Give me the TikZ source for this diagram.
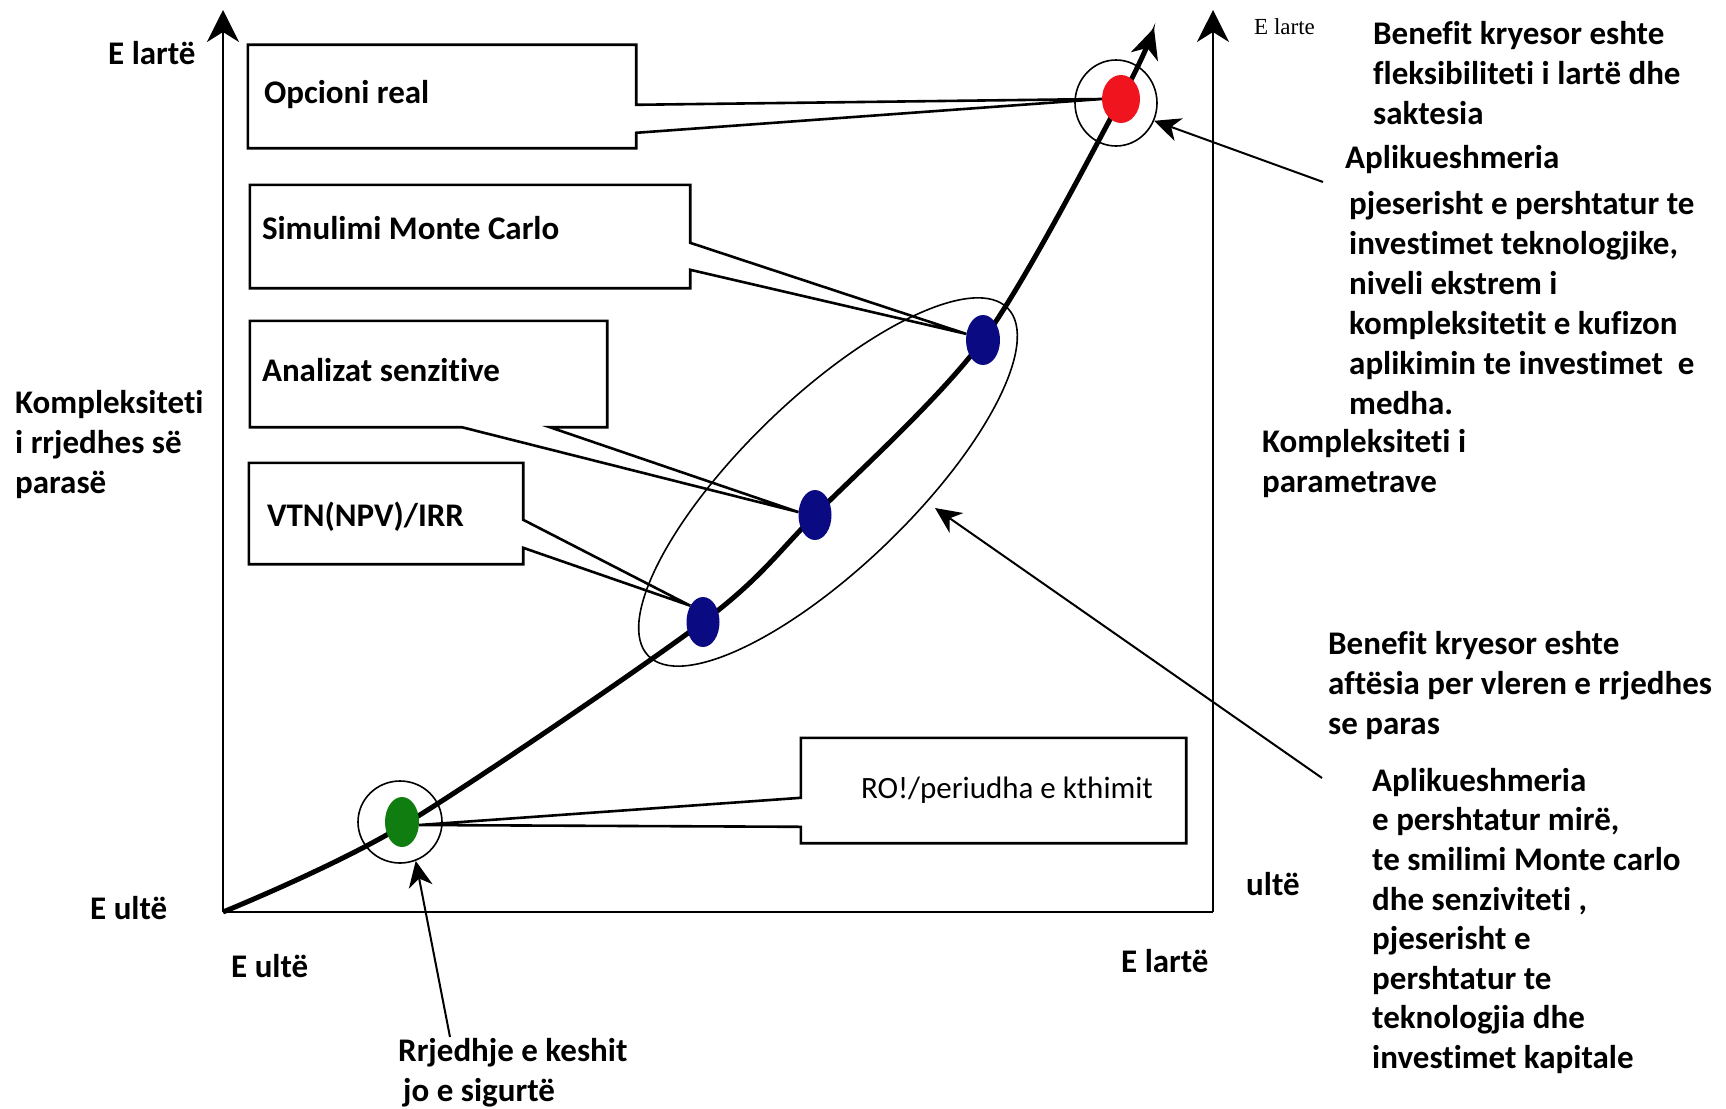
\documentclass[tikz,border=0pt]{standalone}
\usepackage{fontspec}
\setmainfont{Carlito}[Ligatures=NoCommon]
\newfontfamily\timesfont{Liberation Serif}
\usetikzlibrary{arrows.meta,shapes.geometric,calc}
\definecolor{navy}{RGB}{10,10,130}
\definecolor{dgreen}{RGB}{15,125,15}
\definecolor{rred}{RGB}{240,20,30}
\begin{document}
\begin{tikzpicture}[x=1pt,y=-1pt,
  lbl/.style={font=\fontsize{33}{40}\selectfont\bfseries, inner sep=0pt, align=left},
  boxn/.style={inner sep=0pt},
  outline/.style={line width=2.6pt, line join=miter},
  axis/.style={line width=2.6pt, -{Stealth[length=32pt,width=32pt,inset=10pt]}},
  curve/.style={line width=5pt, -{Stealth[length=30pt,width=28pt,inset=9pt]}},
  dot/.style={ellipse, inner sep=0pt},
  ring/.style={ellipse, draw, line width=1.6pt, inner sep=0pt},
  thinarrow/.style={line width=2pt, -{Stealth[length=26pt,width=24pt,inset=8pt]}}
]
\useasboundingbox (0,0) rectangle (1726,1108);
\fill[white] (0,0) rectangle (1726,1108);

% axes
\coordinate (O) at (223,912);
\coordinate (ytop) at (223,10);
\coordinate (R) at (1213,912);
\coordinate (rtop) at (1213,10);
\draw[axis] (O) -- (ytop);
\draw[line width=2.6pt] (O) -- (R);
\draw[axis, line width=2pt] (R) -- (rtop);

% curve
\draw[curve] plot[smooth] coordinates {(223,912) (402,826) (703,622) (815,515) (983,340) (1121,99) (1154,28)};

% big ellipse
\node[ring, minimum width=500pt, minimum height=170pt, rotate=44] (big) at (828,482) {};

% dots
\node[dot, fill=dgreen, minimum width=34pt, minimum height=50pt] (gd) at (402,822) {};
\node[dot, fill=navy, minimum width=33pt, minimum height=50pt] (lb) at (703,622) {};
\node[dot, fill=navy, minimum width=33pt, minimum height=50pt] (mb) at (815,515) {};
\node[dot, fill=navy, minimum width=34pt, minimum height=50pt] (ub) at (983,340) {};
\node[dot, fill=rred, minimum width=38pt, minimum height=48pt] (rd) at (1121,99) {};
\node[ring, minimum width=84pt, minimum height=82pt] (gc) at (400,822) {};
\node[ring, minimum width=82pt, minimum height=86pt] (rc) at (1116,103) {};

% callout boxes
\node[boxn, minimum width=388pt, minimum height=103pt] (op) at (442,96.5) {};
\node[lbl, anchor=base west] (opt) at ($(op.west)+(16,6.5)$) {Opcioni real};
\draw[outline] (op.north west) -- (op.north east) -- ($(op.north east)+(0,60)$) -- (rd.180)
  -- ($(op.north east)+(0,88)$) -- (op.south east) -- (op.south west) -- cycle;

\node[boxn, minimum width=440pt, minimum height=103pt] (sim) at (470,236.5) {};
\node[lbl, anchor=base west] (simt) at ($(sim.west)+(12,3)$) {Simulimi Monte Carlo};
\draw[outline] (sim.north west) -- (sim.north east) -- ($(sim.north east)+(0,58)$) -- (ub.160)
  -- ($(sim.north east)+(0,85)$) -- (sim.south east) -- (sim.south west) -- cycle;

\node[boxn, minimum width=357pt, minimum height=106pt] (an) at (428.5,374) {};
\node[lbl, anchor=base west] (ant) at ($(an.west)+(12,7)$) {Analizat senzitive};
\draw[outline] (an.north west) -- (an.north east) -- (an.south east) -- ($(an.south west)+(300,0)$) -- (mb.170)
  -- ($(an.south west)+(212,0)$) -- (an.south west) -- cycle;

\node[boxn, minimum width=274pt, minimum height=101pt] (vtn) at (386,513.5) {};
\node[lbl, anchor=base west] (vtnt) at ($(vtn.west)+(18,12.5)$) {VTN(NPV)/IRR};
\draw[outline] (vtn.north west) -- (vtn.north east) -- ($(vtn.north east)+(0,57)$) -- (lb.128)
  -- ($(vtn.north east)+(0,85)$) -- (vtn.south east) -- (vtn.south west) -- cycle;

\node[boxn, minimum width=385pt, minimum height=105pt] (ro) at (993.5,790.5) {};
\node[inner sep=0pt, anchor=base west, font=\fontsize{31}{38}\selectfont] (rot) at ($(ro.west)+(60,7.5)$) {RO!/periudha e kthimit};
\draw[outline] (ro.north west) -- (ro.north east) -- (ro.south east) -- (ro.south west)
  -- ($(ro.north west)+(0,89)$) -- (gd.-10) -- ($(ro.north west)+(0,60)$) -- cycle;

% axis labels
\node[lbl, anchor=west] (yhi) at (108,53) {E lartë};
\node[lbl, anchor=west] (ylo) at (90,908) {E ultë};
\node[lbl, anchor=west] (xlo) at (231,966) {E ultë};
\node[lbl, anchor=west] (xhi) at (1121,961) {E lartë};
\node[lbl, anchor=west] (rlo) at (1246,884) {ultë};
\node[inner sep=0pt, anchor=west, font=\timesfont\fontsize{23}{28}\selectfont] (rhi) at (1254,27) {E larte};

% text blocks
\node[lbl, anchor=north west] (kl) at (15,390) {Kompleksiteti\\i rrjedhes së\\parasë};
\node[lbl, anchor=north west] (kr) at (1262,429) {Kompleksiteti i\\parametrave};
\node[lbl, anchor=north west] (b1) at (1373,21) {Benefit kryesor eshte\\fleksibiliteti i lartë dhe\\saktesia};
\node[lbl, anchor=north west] (a1) at (1345,145) {Aplikueshmeria};
\node[lbl, anchor=north west] (p1) at (1349,191) {pjeserisht e pershtatur te\\investimet teknologjike,\\niveli ekstrem i\\kompleksitetit e kufizon\\aplikimin te investimet\ \ e\\medha.};
\node[lbl, anchor=north west] (b2) at (1328,631) {Benefit kryesor eshte\\aftësia per vleren e rrjedhes\\se paras};
\node[lbl, anchor=north west, font=\fontsize{33}{39.6}\selectfont\bfseries] (a2) at (1372,768) {Aplikueshmeria\\e pershtatur mirë,\\te smilimi Monte carlo\\dhe senziviteti ,\\pjeserisht e\\pershtatur te\\teknologjia dhe\\investimet kapitale};
\node[lbl, anchor=north west] (rr) at (398,1038) {Rrjedhje e keshit\\\hspace*{5pt}jo e sigurtë};

% pointer arrows
\coordinate (a1s) at (1323,182);
\draw[thinarrow] (a1s) -- (rc.-25);
\coordinate (a2s) at (1322,778);
\coordinate (bigtip) at (935,508);
\draw[thinarrow] (a2s) -- (bigtip);
\coordinate (rrs) at (450,1037);
\draw[thinarrow] (rrs) -- (gc.-68);
\end{tikzpicture}
\end{document}
